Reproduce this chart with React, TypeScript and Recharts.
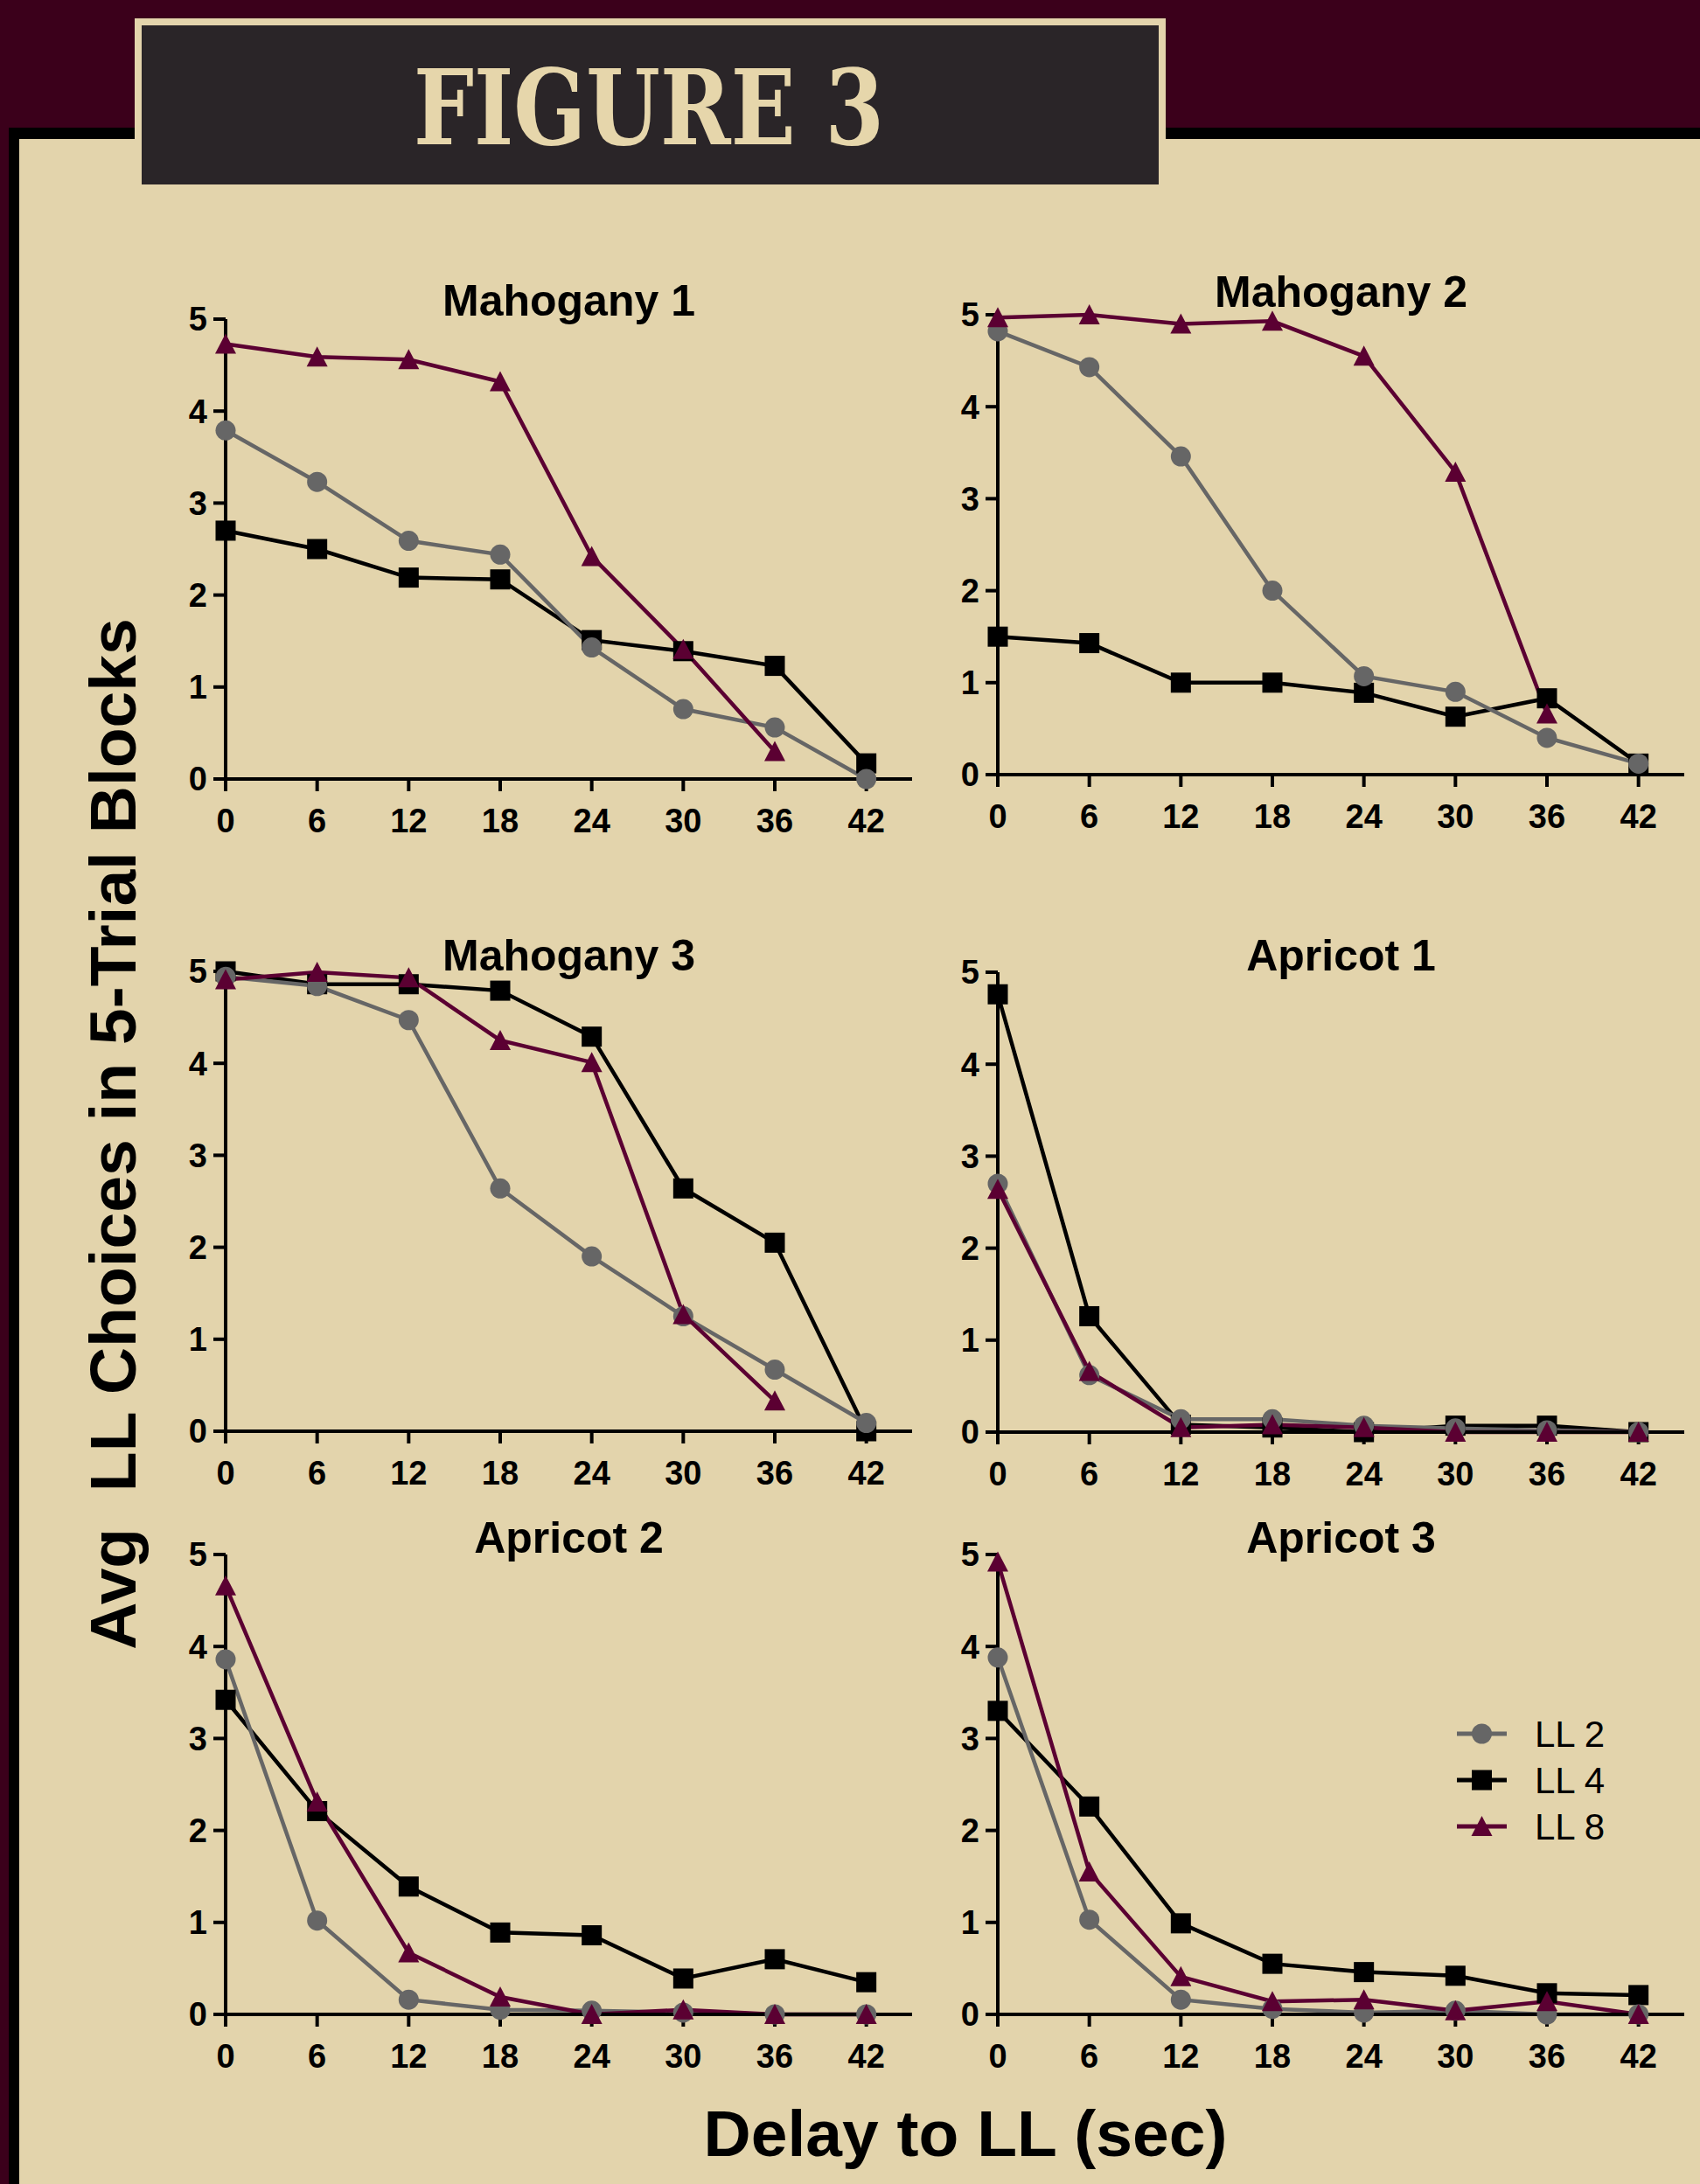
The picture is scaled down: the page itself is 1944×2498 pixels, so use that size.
import { LineChart, Line, XAxis, YAxis, Legend } from 'recharts'

const delays = [0, 6, 12, 18, 24, 30, 36, 42]
const yTicks = [0, 1, 2, 3, 4, 5]

const mahogany1LL2 = [3.79, 3.23, 2.59, 2.44, 1.43, 0.76, 0.56, 0.0]
const mahogany1LL4 = [2.7, 2.5, 2.19, 2.17, 1.51, 1.39, 1.23, 0.17]
const mahogany1LL8 = [4.73, 4.59, 4.56, 4.32, 2.42, 1.41, 0.3, null]

const mahogany2LL2 = [4.82, 4.43, 3.46, 2.0, 1.07, 0.9, 0.4, 0.12]
const mahogany2LL4 = [1.5, 1.43, 1.0, 1.0, 0.89, 0.63, 0.83, 0.12]
const mahogany2LL8 = [4.97, 5.0, 4.9, 4.93, 4.55, 3.29, 0.66, null]

const mahogany3LL2 = [4.94, 4.84, 4.47, 2.64, 1.9, 1.25, 0.67, 0.09]
const mahogany3LL4 = [5.0, 4.86, 4.86, 4.79, 4.29, 2.64, 2.05, 0.0]
const mahogany3LL8 = [4.91, 4.99, 4.93, 4.25, 4.01, 1.27, 0.33, null]

const apricot1LL2 = [2.7, 0.62, 0.14, 0.14, 0.07, 0.04, 0.02, 0.0]
const apricot1LL4 = [4.76, 1.26, 0.08, 0.05, 0.0, 0.07, 0.07, 0.0]
const apricot1LL8 = [2.64, 0.66, 0.05, 0.08, 0.05, 0.0, 0.0, 0.0]

const apricot2LL2 = [3.86, 1.02, 0.16, 0.05, 0.04, 0.02, 0.0, 0.0]
const apricot2LL4 = [3.42, 2.21, 1.39, 0.89, 0.86, 0.39, 0.6, 0.35]
const apricot2LL8 = [4.66, 2.31, 0.67, 0.19, 0.0, 0.05, 0.0, 0.0]

const apricot3LL2 = [3.88, 1.03, 0.16, 0.06, 0.02, 0.04, 0.0, 0.0]
const apricot3LL4 = [3.3, 2.26, 0.99, 0.55, 0.46, 0.42, 0.23, 0.21]
const apricot3LL8 = [4.92, 1.55, 0.41, 0.14, 0.16, 0.04, 0.14, 0.0]

const GRAY = '#666666'
const BLACK = '#000000'
const MAROON = '#5b0032'
const BEIGE = '#e3d4ac'
const FONT = '"Liberation Sans", Arial, sans-serif'

const legendItems = [
  { name: 'LL 2', color: GRAY, shape: 'circle' },
  { name: 'LL 4', color: BLACK, shape: 'square' },
  { name: 'LL 8', color: MAROON, shape: 'triangle' },
]

type Panel = {
  title: string
  ll2: (number | null)[]
  ll4: (number | null)[]
  ll8: (number | null)[]
  x0: number
  y5: number
  titleY: number
  legend?: boolean
}

const panels: Panel[] = [
  { title: 'Mahogany 1', ll2: mahogany1LL2, ll4: mahogany1LL4, ll8: mahogany1LL8, x0: 258, y5: 365, titleY: 361 },
  { title: 'Mahogany 2', ll2: mahogany2LL2, ll4: mahogany2LL4, ll8: mahogany2LL8, x0: 1141, y5: 360, titleY: 351 },
  { title: 'Mahogany 3', ll2: mahogany3LL2, ll4: mahogany3LL4, ll8: mahogany3LL8, x0: 258, y5: 1111, titleY: 1110 },
  { title: 'Apricot 1', ll2: apricot1LL2, ll4: apricot1LL4, ll8: apricot1LL8, x0: 1141, y5: 1112, titleY: 1110 },
  { title: 'Apricot 2', ll2: apricot2LL2, ll4: apricot2LL4, ll8: apricot2LL8, x0: 258, y5: 1778, titleY: 1776 },
  { title: 'Apricot 3', ll2: apricot3LL2, ll4: apricot3LL4, ll8: apricot3LL8, x0: 1141, y5: 1778, titleY: 1776, legend: true },
]

const PAD_L = 80
const PAD_T = 80
const PAD_R = 20
const PLOT_W = 785
const PLOT_H = 526
const CHART_W = PAD_L + PLOT_W + PAD_R
const CHART_H = PAD_T + PLOT_H + 80
const LINE_W = 4.5

function Symbol({ shape, color, cx, cy }: { shape: string; color: string; cx: number; cy: number }) {
  if (shape === 'circle') return <circle cx={cx} cy={cy} r={11.5} fill={color} />
  if (shape === 'square') return <rect x={cx - 11.5} y={cy - 11.5} width={23} height={23} fill={color} />
  return <path d={`M${cx},${cy - 12} L${cx + 12},${cy + 11} L${cx - 12},${cy + 11} Z`} fill={color} />
}

function makeDot(shape: string, color: string) {
  return (props: any) => {
    const { cx, cy, index, value } = props
    if (cx == null || cy == null || value == null) return <g key={`e-${index}`} />
    return (
      <g key={`d-${index}`}>
        <Symbol shape={shape} color={color} cx={cx} cy={cy} />
      </g>
    )
  }
}

function LegendBox() {
  return (
    <svg width={200} height={170} style={{ overflow: 'visible' }}>
      {legendItems.map((item, i) => {
        const cy = 27 + i * 53
        return (
          <g key={item.name}>
            <line x1={0} x2={57} y1={cy} y2={cy} stroke={item.color} strokeWidth={5} />
            <Symbol shape={item.shape} color={item.color} cx={28.5} cy={cy} />
            <text x={89} y={cy + 15} fontSize={42} fontFamily={FONT} fill="#000">
              {item.name}
            </text>
          </g>
        )
      })}
    </svg>
  )
}

function PanelChart({ p }: { p: Panel }) {
  const data = delays.map((d, i) => ({ delay: d, ll2: p.ll2[i], ll4: p.ll4[i], ll8: p.ll8[i] }))
  const tick = { fontSize: 38, fontWeight: 700, fill: '#000', fontFamily: FONT }
  return (
    <div style={{ position: 'absolute', left: p.x0 - PAD_L, top: p.y5 - PAD_T }}>
      <LineChart width={CHART_W} height={CHART_H} data={data} margin={{ top: PAD_T, right: PAD_R, left: 0, bottom: 0 }}>
        <XAxis
          type="number"
          dataKey="delay"
          domain={[0, 45]}
          ticks={delays}
          interval={0}
          height={80}
          tickSize={14}
          tickMargin={20}
          axisLine={{ stroke: '#000', strokeWidth: 4 }}
          tickLine={{ stroke: '#000', strokeWidth: 4 }}
          tick={tick}
        />
        <YAxis
          type="number"
          domain={[0, 5]}
          ticks={yTicks}
          interval={0}
          width={PAD_L}
          tickSize={14}
          tickMargin={7}
          axisLine={{ stroke: '#000', strokeWidth: 4 }}
          tickLine={{ stroke: '#000', strokeWidth: 4 }}
          tick={tick}
        />
        <Line type="linear" dataKey="ll4" stroke={BLACK} strokeWidth={LINE_W} dot={makeDot('square', BLACK)} activeDot={false} isAnimationActive={false} />
        <Line type="linear" dataKey="ll2" stroke={GRAY} strokeWidth={LINE_W} dot={makeDot('circle', GRAY)} activeDot={false} isAnimationActive={false} />
        <Line type="linear" dataKey="ll8" stroke={MAROON} strokeWidth={LINE_W} dot={makeDot('triangle', MAROON)} activeDot={false} isAnimationActive={false} />
        {p.legend && (
          <Legend
            layout="vertical"
            align="center"
            verticalAlign="middle"
            content={() => <LegendBox />}
            wrapperStyle={{ position: 'absolute', left: 1666 - (p.x0 - PAD_L), top: 1956 - (p.y5 - PAD_T), width: 200, height: 170 }}
          />
        )}
      </LineChart>
    </div>
  )
}

export default function App() {
  return (
    <div style={{ position: 'absolute', left: 0, top: 0, width: 1944, height: 2498, overflow: 'hidden' }}>
      <svg width={1944} height={2498} style={{ position: 'absolute', left: 0, top: 0 }}>
        <rect x={0} y={0} width={1944} height={2498} fill="#3b001b" />
        <rect x={10} y={146} width={1934} height={2352} fill="#000" />
        <rect x={22} y={159} width={1922} height={2339} fill={BEIGE} />
        <rect x={154} y={21} width={1179} height={191} fill={BEIGE} />
        <rect x={162} y={29} width={1163} height={182} fill="#2a2528" />
        <text
          x={473}
          y={165}
          fontSize={119}
          fontWeight={700}
          fontFamily='"DejaVu Serif", "Liberation Serif", serif'
          fill="#e6d6ab"
          textLength={538}
          lengthAdjust="spacingAndGlyphs"
        >
          FIGURE 3
        </text>
      </svg>
      {panels.map((p) => (
        <PanelChart key={p.title} p={p} />
      ))}
      <svg width={1944} height={2498} style={{ position: 'absolute', left: 0, top: 0, pointerEvents: 'none' }}>
        {panels.map((p) => (
          <text
            key={p.title}
            x={p.x0 + PLOT_W / 2}
            y={p.titleY}
            textAnchor="middle"
            fontSize={50}
            fontWeight={700}
            fontFamily={FONT}
            fill="#000"
          >
            {p.title}
          </text>
        ))}
        <text
          transform="translate(155,1297) rotate(-90)"
          textAnchor="middle"
          fontSize={75}
          fontWeight={700}
          fontFamily={FONT}
          fill="#000"
          style={{ whiteSpace: 'pre' }}
        >
          {'Avg  LL Choices in 5-Trial Blocks'}
        </text>
        <text x={1104} y={2466} textAnchor="middle" fontSize={75} fontWeight={700} fontFamily={FONT} fill="#000">
          Delay to LL (sec)
        </text>
      </svg>
    </div>
  )
}
